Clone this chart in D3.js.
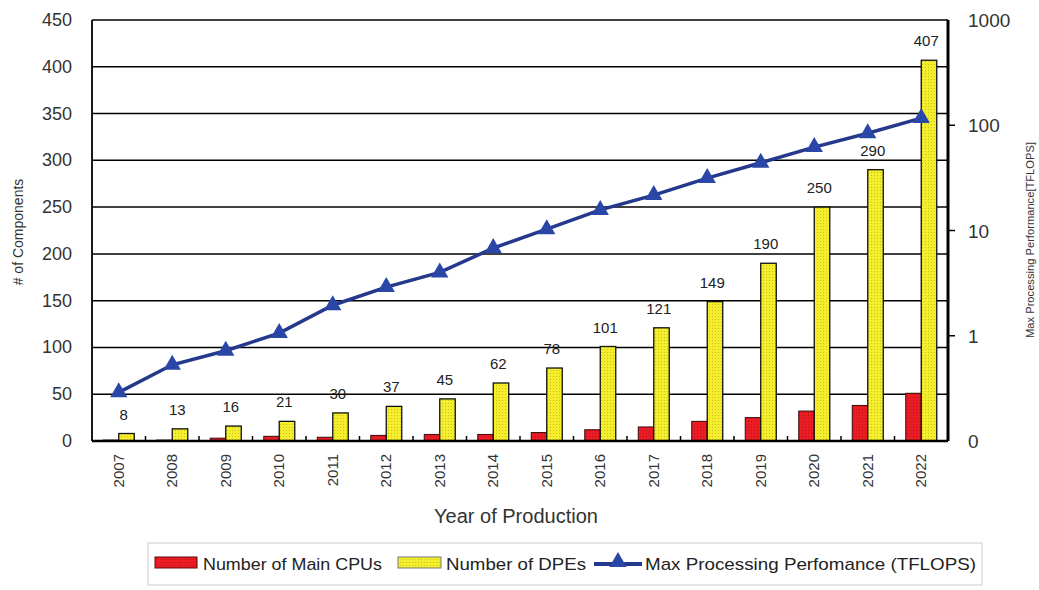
<!DOCTYPE html>
<html><head><meta charset="utf-8">
<script src="https://cdn.jsdelivr.net/npm/d3@7"></script>
<style>body{margin:0;background:#fff}svg{display:block;font-family:"Liberation Sans",Arial,sans-serif}</style>
</head><body><svg id="c" width="1039" height="590"></svg>
<script>
const years = ["2007","2008","2009","2010","2011","2012","2013","2014","2015","2016","2017","2018","2019","2020","2021","2022"];
const cpus = [1,1,3,5,4,6,7,7,9,12,15,21,25,32,38,51];
const dpes = [8,13,16,21,30,37,45,62,78,101,121,149,190,250,290,407];
const tflops = [0.29,0.53,0.72,1.06,1.95,2.9,4.0,6.8,10.3,15.7,21.7,31.5,44,62,84,117];
const leftTicks = [0,50,100,150,200,250,300,350,400,450];
const rightTicks = [0.1,1,10,100,1000];
const rightTickLabels = ["0","1","10","100","1000"];
const legendLabels = ["Number of Main CPUs","Number of DPEs","Max Processing Perfomance (TFLOPS)"];

const svg = d3.select("#c");
const L=92,R=948,T=20,B=441;
const x = d3.scaleBand().domain(years).range([L,R]).paddingInner(0).paddingOuter(0);
const yL = d3.scaleLinear().domain([0,450]).range([B,T]);
const yR = d3.scaleLog().domain([0.1,1000]).range([B,T]);
const bw = 15.5;

const defs = svg.append("defs");
function pat(id, base, dot){
  const p = defs.append("pattern").attr("id",id).attr("width",3).attr("height",3).attr("patternUnits","userSpaceOnUse");
  p.append("rect").attr("width",3).attr("height",3).attr("fill",base);
  p.append("rect").attr("x",1).attr("y",1).attr("width",1).attr("height",1).attr("fill",dot);
}
pat("pr","#ec1c24","#b8141a");
pat("py","#f4ee2c","#c9c21c");

// gridlines
svg.append("g").selectAll("line").data(leftTicks.filter(d=>d>0&&d<450)).join("line")
  .attr("x1",L).attr("x2",R).attr("y1",d=>yL(d)).attr("y2",d=>yL(d))
  .attr("stroke","#000").attr("stroke-width",1.5);

// bars
const g = svg.append("g");
g.selectAll(".cpu").data(years).join("rect")
  .attr("x",d=>x(d)+x.bandwidth()/2-bw).attr("width",bw)
  .attr("y",(d,i)=>yL(cpus[i])).attr("height",(d,i)=>yL(0)-yL(cpus[i]))
  .attr("fill","url(#pr)").attr("stroke","#3a0a0a").attr("stroke-width",1);
g.selectAll(".dpe").data(years).join("rect")
  .attr("x",d=>x(d)+x.bandwidth()/2).attr("width",bw)
  .attr("y",(d,i)=>yL(dpes[i])).attr("height",(d,i)=>yL(0)-yL(dpes[i]))
  .attr("fill","url(#py)").attr("stroke","#111").attr("stroke-width",1.3);

// value labels
svg.append("g").selectAll("text").data(years).join("text")
  .attr("x",d=>x(d)+x.bandwidth()/2+5).attr("y",(d,i)=>yL(dpes[i])-14)
  .attr("text-anchor","middle").attr("font-size",15).attr("fill","#222")
  .text((d,i)=>dpes[i]);

// x tick marks at category boundaries
svg.append("g").selectAll("line").data(years.slice(1)).join("line")
  .attr("x1",d=>x(d)).attr("x2",d=>x(d)).attr("y1",B).attr("y2",B-5)
  .attr("stroke","#000").attr("stroke-width",1.5);

// line
const line = d3.line().x((d,i)=>x(years[i])+x.bandwidth()/2).y(d=>yR(d));
svg.append("path").datum(tflops).attr("d",line).attr("fill","none")
  .attr("stroke","#24398c").attr("stroke-width",3.5);
const tri = d3.symbol().type(d3.symbolTriangle).size(130);
svg.append("g").selectAll("path").data(tflops).join("path")
  .attr("d",tri).attr("transform",(d,i)=>`translate(${x(years[i])+x.bandwidth()/2},${yR(d)})`)
  .attr("fill","#2a47a8");

// plot border
svg.append("line").attr("x1",L).attr("x2",L).attr("y1",T).attr("y2",B).attr("stroke","#000").attr("stroke-width",1.8);
svg.append("line").attr("x1",R).attr("x2",R).attr("y1",T).attr("y2",B).attr("stroke","#000").attr("stroke-width",3);
svg.append("line").attr("x1",L).attr("x2",R).attr("y1",T).attr("y2",T).attr("stroke","#000").attr("stroke-width",1.5);
svg.append("line").attr("x1",L).attr("x2",R).attr("y1",B).attr("y2",B).attr("stroke","#000").attr("stroke-width",2.5);

// left axis labels
svg.append("g").selectAll("text").data(leftTicks).join("text")
  .attr("x",72).attr("y",d=>yL(d)+6).attr("text-anchor","end").attr("font-size",18).attr("fill","#333").text(d=>d);
// right axis
svg.append("g").selectAll("line").data(rightTicks.slice(1,4)).join("line")
  .attr("x1",R).attr("x2",R+7).attr("y1",d=>yR(d)).attr("y2",d=>yR(d)).attr("stroke","#000").attr("stroke-width",1.5);
svg.append("g").selectAll("text").data(rightTicks).join("text")
  .attr("x",968).attr("y",d=>yR(d)+7).attr("font-size",19).attr("fill","#333").text((d,i)=>rightTickLabels[i]);

// x labels
svg.append("g").selectAll("text").data(years).join("text")
  .attr("transform",d=>`translate(${x(d)+x.bandwidth()/2+5},${454}) rotate(-90)`)
  .attr("text-anchor","end").attr("font-size",15).attr("fill","#333").text(d=>d);

// titles
svg.append("text").attr("x",516).attr("y",523).attr("text-anchor","middle").attr("font-size",20).attr("fill","#333").text("Year of Production");
svg.append("text").attr("transform","translate(23,232) rotate(-90)").attr("text-anchor","middle").attr("font-size",14).attr("fill","#333").text("# of Components");
svg.append("text").attr("transform","translate(1034,240) rotate(-90)").attr("text-anchor","middle").attr("font-size",10).attr("fill","#333")
  .attr("textLength",196).attr("lengthAdjust","spacingAndGlyphs").text("Max Processing Performance[TFLOPS]");

// legend
const lg = svg.append("g");
lg.append("rect").attr("x",148).attr("y",543).attr("width",834).attr("height",42).attr("fill","none").attr("stroke","#ccc").attr("stroke-width",1);
lg.append("rect").attr("x",155).attr("y",557).attr("width",42).attr("height",11).attr("fill","url(#pr)").attr("stroke","#5a0a0a");
lg.append("rect").attr("x",398).attr("y",557).attr("width",43).attr("height",11).attr("fill","url(#py)").attr("stroke","#777");
lg.append("line").attr("x1",594).attr("x2",642).attr("y1",564).attr("y2",564).attr("stroke","#24398c").attr("stroke-width",4);
lg.append("path").attr("d",tri).attr("transform","translate(618,562)").attr("fill","#2a47a8");
const lx=[203,446,645], lw=[179,140,331];
lg.selectAll("text.l").data(legendLabels).join("text")
  .attr("x",(d,i)=>lx[i]).attr("y",570).attr("font-size",17).attr("fill","#222")
  .attr("textLength",(d,i)=>lw[i]).attr("lengthAdjust","spacingAndGlyphs").text(d=>d);
</script></body></html>
